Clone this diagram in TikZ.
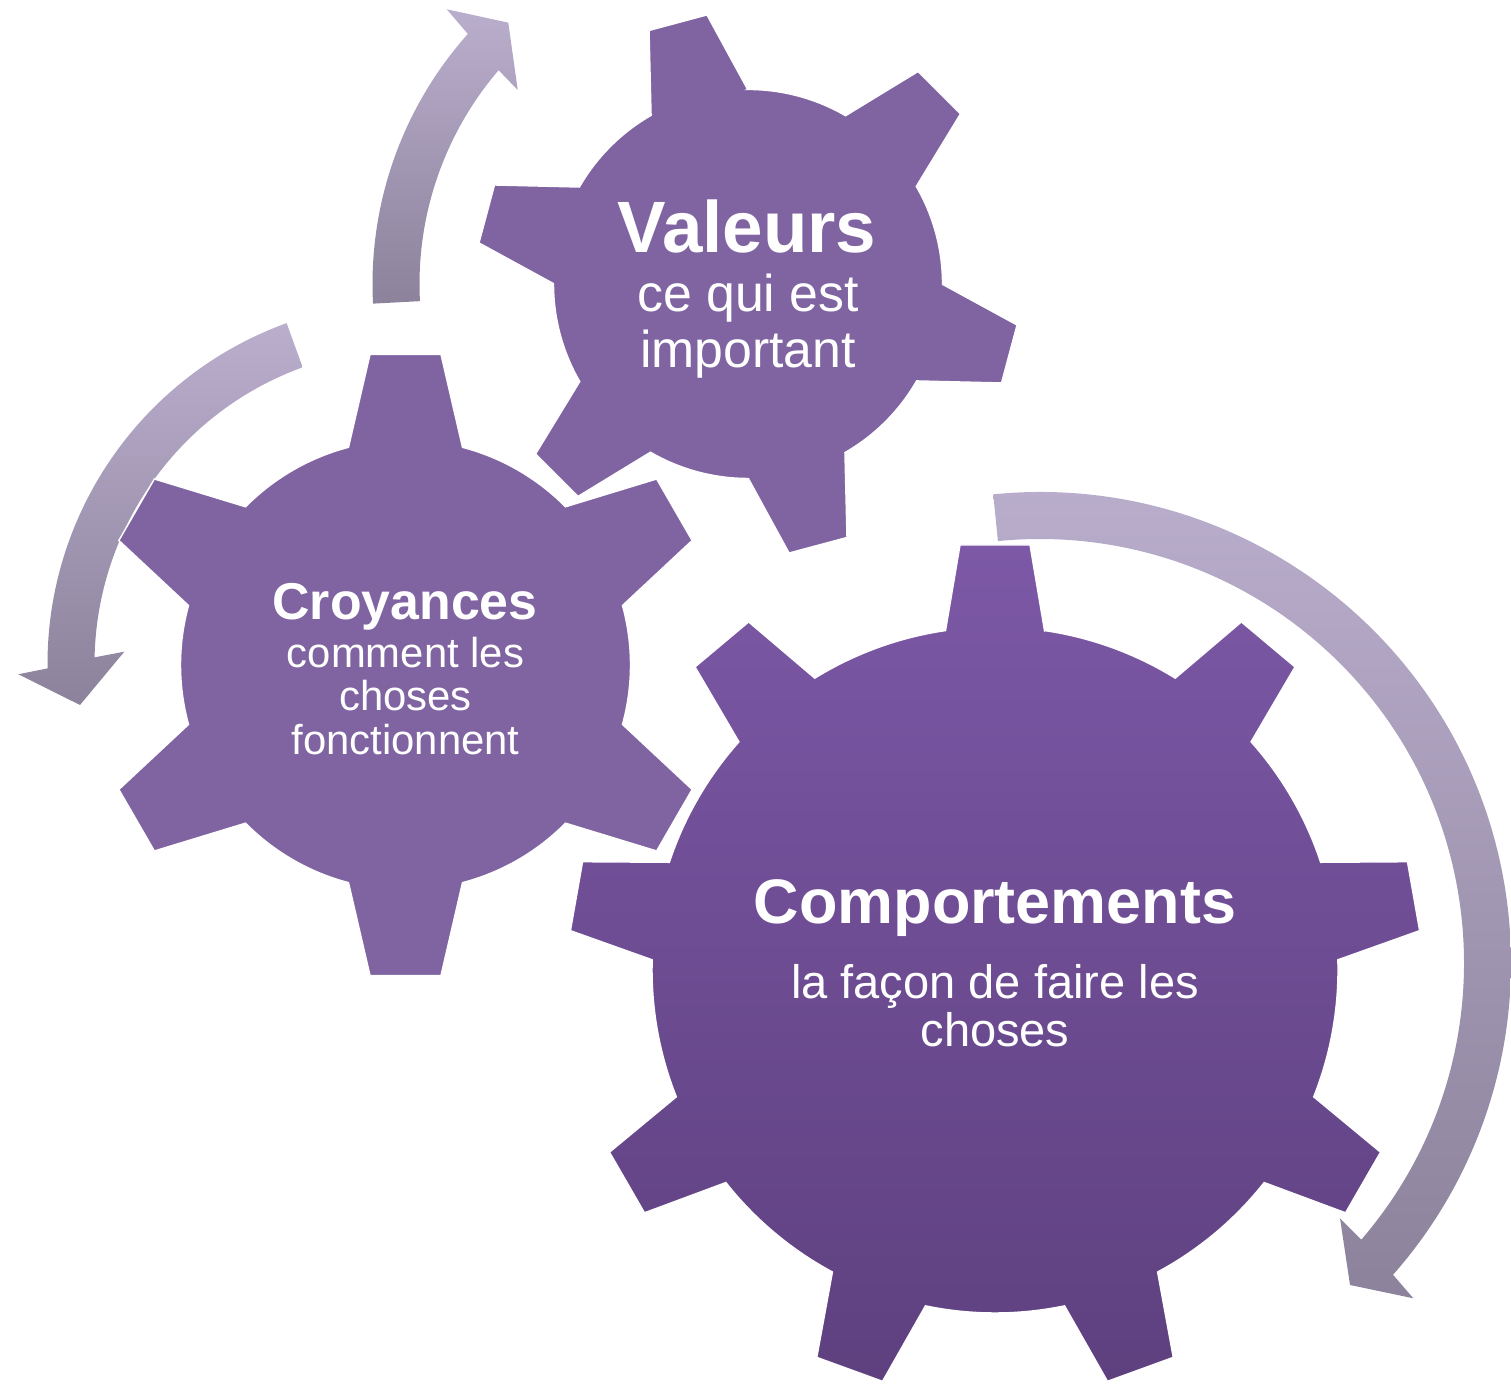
\documentclass[tikz,border=0pt]{standalone}
\usepackage{fontspec}
\setmainfont{Liberation Sans}
\definecolor{gearpurple}{RGB}{128,100,162}
\definecolor{bigtop}{RGB}{124,88,166}
\definecolor{bigbot}{RGB}{94,64,127}
\definecolor{arrtop}{RGB}{186,174,205}
\definecolor{arrbot}{RGB}{140,130,155}
% #1 center, #2 teeth, #3 start angle, #4 body radius, #5 outer radius, #6 base half width, #7 top half width, #8 style
\newcommand\mygear[8]{%
  \pgfmathsetmacro\gA{asin(#6/#4)}%
  \pgfmathsetmacro\gB{atan(#7/#5)}%
  \pgfmathsetmacro\gRt{sqrt(#7*#7+#5*#5)}%
  \pgfmathsetmacro\gS{360/#2}%
  \pgfmathtruncatemacro\gN{#2-1}%
  \begin{scope}[shift={#1}]
    \path[#8] ({#3-\gA}:#4)
      foreach \k in {0,...,\gN}{
        -- ({#3+\k*\gS-\gB}:\gRt) -- ({#3+\k*\gS+\gB}:\gRt) -- ({#3+\k*\gS+\gA}:#4)
        arc[start angle={#3+\k*\gS+\gA}, end angle={#3+(\k+1)*\gS-\gA}, radius=#4]
      } -- cycle;
  \end{scope}}
% #1 center, #2 mid radius, #3 half width, #4 start angle, #5 outer end angle, #6 inner end angle,
% #7 outer barb, #8 tip, #9 inner barb
\newcommand\myarrow[9]{%
  \path[cyclearrow] ([shift={#1}]{#4}:{#2+#3})
    arc[start angle={#4}, end angle={#5}, radius={#2+#3}]
    -- #7 -- #8 -- #9
    -- ([shift={#1}]{#6}:{#2-#3})
    arc[start angle={#6}, end angle={#4}, radius={#2-#3}] -- cycle;}
\tikzset{
  smallgear/.style={fill=gearpurple, draw=white, line width=0.4pt},
  biggear/.style={top color=bigtop, bottom color=bigbot, draw=white, line width=0.4pt},
  cyclearrow/.style={top color=arrtop, bottom color=arrbot},
  gtitle/.style={text=white, anchor=base, inner sep=0pt},
  gsub/.style={text=white, anchor=base, inner sep=0pt},
}
\begin{document}
\begin{tikzpicture}
\useasboundingbox (0,0) rectangle (15.11,13.84);
% arrows
\coordinate (ta1) at (4.467,13.747); \coordinate (ta2) at (5.083,13.613); \coordinate (ta3) at (5.177,12.94);
\coordinate (la1) at (0.183,7.097);  \coordinate (la2) at (0.80,6.79);    \coordinate (la3) at (1.243,7.323);
\coordinate (ra1) at (14.133,0.857); \coordinate (ra2) at (13.50,0.99);   \coordinate (ra3) at (13.40,1.657);
\myarrow{(7.48,11.00)}{3.52}{0.235}{183}{138.25}{139.4}{(ta1)}{(ta2)}{(ta3)}
\myarrow{(4.10,7.20)}{3.39}{0.235}{109.9}{180.7}{178.8}{(la1)}{(la2)}{(la3)}
\myarrow{(10.40,4.21)}{4.475}{0.235}{95.7}{-41.45}{-40.73}{(ra1)}{(ra2)}{(ra3)}
% gears
\mygear{(7.48,11.00)}{6}{105}{1.945}{2.705}{0.50}{0.30}{smallgear}
\mygear{(4.055,7.19)}{6}{90}{2.25}{3.105}{0.57}{0.355}{smallgear}
\mygear{(9.95,4.14)}{9}{90}{3.43}{4.25}{0.495}{0.35}{biggear}
% texts
\node[gtitle, font=\fontsize{20.7}{24}\selectfont\bfseries] (v1) at (7.47,11.314) {Valeurs};
\node[gsub, font=\fontsize{14.74}{17}\selectfont] (v2) at (7.48,10.725) {ce qui est};
\node[gsub, font=\fontsize{14.74}{17}\selectfont] (v3) at (7.48,10.169) {important};
\node[gtitle, font=\fontsize{14.74}{17}\selectfont\bfseries] (c1) at (4.05,7.641) {Croyances};
\node[gsub, font=\fontsize{11.9}{14}\selectfont] (c2) at (4.055,7.165) {comment les};
\node[gsub, font=\fontsize{11.9}{14}\selectfont] (c3) at (4.055,6.738) {choses};
\node[gsub, font=\fontsize{11.9}{14}\selectfont] (c4) at (4.055,6.294) {fonctionnent};
\node[gtitle, font=\fontsize{17.9}{21}\selectfont\bfseries] (b1) at (9.95,4.607) {Comportements};
\node[gsub, font=\fontsize{13.38}{16}\selectfont] (b2) at (9.95,3.857) {la façon de faire les};
\node[gsub, font=\fontsize{13.38}{16}\selectfont] (b3) at (9.95,3.373) {choses};
\end{tikzpicture}
\end{document}
